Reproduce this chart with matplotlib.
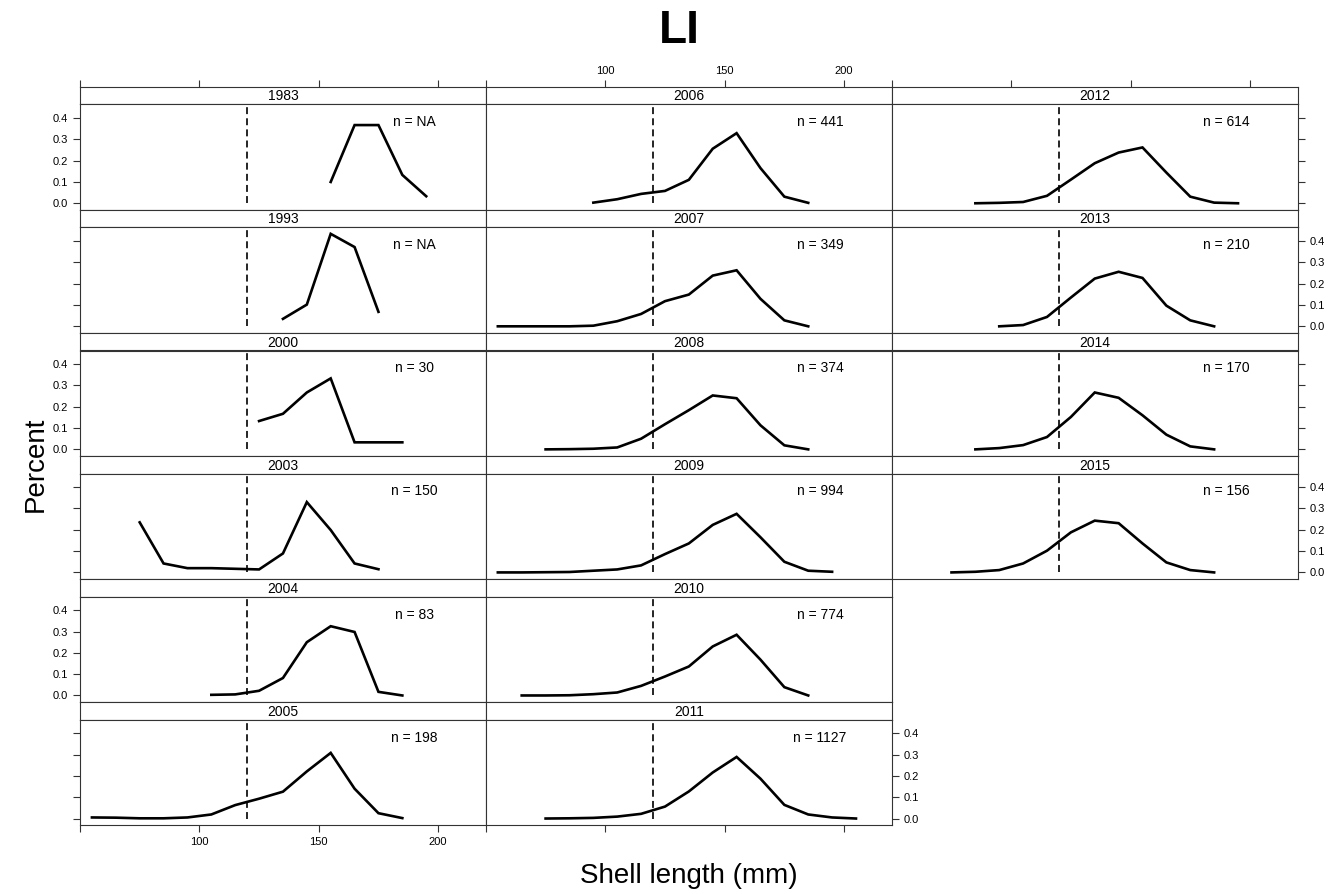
import numpy as np
import matplotlib
matplotlib.use("Agg")
import matplotlib.pyplot as plt

plt.rcParams['font.family'] = ['Liberation Sans', 'DejaVu Sans']
plt.rcParams['lines.scale_dashes'] = False

# bin midpoints (mm)
mids = [55, 65, 75, 85, 95, 105, 115, 125, 135, 145, 155, 165, 175, 185, 195, 205]
na = np.nan

y1983 = [na, na, na, na, na, na, na, na, na, na, 0.100, 0.367, 0.367, 0.133, 0.033, na]
y1993 = [na, na, na, na, na, na, na, na, 0.035, 0.102, 0.434, 0.372, 0.068, na, na, na]
y2000 = [na, na, na, na, na, na, na, 0.133, 0.167, 0.267, 0.333, 0.033, 0.033, 0.033, na, na]
y2003 = [na, na, 0.235, 0.042, 0.020, 0.020, 0.017, 0.014, 0.089, 0.330, 0.199, 0.042, 0.015, na, na, na]
y2004 = [na, na, na, na, na, 0.003, 0.005, 0.022, 0.082, 0.250, 0.325, 0.298, 0.017, 0.0, na, na]
y2005 = [0.005, 0.004, 0.001, 0.001, 0.005, 0.019, 0.063, 0.093, 0.126, 0.221, 0.308, 0.140, 0.025, 0.002, na, na]
y2006 = [na, na, na, na, 0.003, 0.019, 0.044, 0.058, 0.110, 0.256, 0.329, 0.165, 0.031, 0.002, na, na]
y2007 = [0.0, 0.0, 0.0, 0.0, 0.003, 0.024, 0.058, 0.118, 0.149, 0.238, 0.263, 0.129, 0.028, 0.0, na, na]
y2008 = [na, na, 0.0, 0.001, 0.003, 0.009, 0.050, 0.118, 0.184, 0.253, 0.240, 0.113, 0.019, 0.0, na, na]
y2009 = [0.0, 0.0, 0.001, 0.002, 0.008, 0.014, 0.033, 0.086, 0.136, 0.223, 0.275, 0.165, 0.050, 0.008, 0.003, na]
y2010 = [na, 0.0, 0.0, 0.001, 0.006, 0.014, 0.045, 0.089, 0.136, 0.230, 0.285, 0.168, 0.039, 0.0, na, na]
y2011 = [na, na, 0.0, 0.001, 0.003, 0.009, 0.022, 0.056, 0.127, 0.216, 0.289, 0.187, 0.064, 0.019, 0.005, 0.0]
y2012 = [na, na, na, 0.0, 0.002, 0.006, 0.035, 0.111, 0.188, 0.238, 0.262, 0.144, 0.031, 0.003, 0.0, na]
y2013 = [na, na, na, na, 0.0, 0.006, 0.044, 0.135, 0.224, 0.256, 0.227, 0.097, 0.028, 0.0, na, na]
y2014 = [na, na, na, 0.0, 0.006, 0.020, 0.058, 0.152, 0.267, 0.242, 0.160, 0.069, 0.014, 0.0, na, na]
y2015 = [na, na, 0.0, 0.003, 0.011, 0.042, 0.102, 0.188, 0.243, 0.231, 0.136, 0.047, 0.011, 0.0, na, na]

years = [1983, 1993, 2000, 2003, 2004, 2005,
         2006, 2007, 2008, 2009, 2010, 2011,
         2012, 2013, 2014, 2015]
series = [y1983, y1993, y2000, y2003, y2004, y2005,
          y2006, y2007, y2008, y2009, y2010, y2011,
          y2012, y2013, y2014, y2015]
n_labels = ["NA", "NA", "30", "150", "83", "198",
            "441", "349", "374", "994", "774", "1127",
            "614", "210", "170", "156"]
min_size = 120

W, H = 1338, 894
fig = plt.figure(figsize=(W / 100, H / 100), dpi=100)

def box(x, y, w, h):
    return [x / W, 1 - (y + h) / H, w / W, h / H]

col_w = 405.9
row_h = 123.05
strip_h = 17.7
x0, y0 = 80, 86.7
edge = '#333333'
xlim = (50, 220)
ylim = (-0.0304, 0.464)
xt = [50, 100, 150, 200]
xtl = ["", "100", "150", "200"]
yt = [0, 0.1, 0.2, 0.3, 0.4]
ytl = ["0.0", "0.1", "0.2", "0.3", "0.4"]

for i, (yr, vals, nl) in enumerate(zip(years, series, n_labels)):
    c, r = i // 6, i % 6
    left = x0 + c * col_w
    top = y0 + r * row_h

    # strip
    sax = fig.add_axes(box(left, top, col_w, strip_h))
    sax.set_xlim(*xlim)
    sax.set_ylim(0, 1)
    sax.set_yticks([])
    sax.text(0.5, 0.45, str(yr), transform=sax.transAxes, ha='center', va='center', fontsize=10)
    for s in sax.spines.values():
        s.set_color(edge)
        s.set_linewidth(0.8)
    sax.set_xticks(xt)
    sax.set_xticklabels(xtl)
    sax.tick_params(axis='x', bottom=False, labelbottom=False,
                    top=(r == 0), labeltop=(r == 0 and c == 1),
                    direction='out', length=4.8, width=0.8, color=edge,
                    labelsize=8, pad=3)

    # panel
    ax = fig.add_axes(box(left, top + strip_h, col_w, row_h - strip_h))
    ax.plot(mids, vals, color='black', lw=1.9, solid_joinstyle='miter')
    ax.plot([min_size, min_size], [0, 1], color='black', lw=1.2, ls=(0, (5, 3)))
    ax.text(190, 0.83, "n = " + nl, transform=ax.get_xaxis_transform(),
            ha='center', va='center', fontsize=10)
    ax.set_xlim(*xlim)
    ax.set_ylim(*ylim)
    ax.set_xticks(xt)
    ax.set_xticklabels(xtl)
    ax.set_yticks(yt)
    ax.set_yticklabels(ytl)
    for s in ax.spines.values():
        s.set_color(edge)
        s.set_linewidth(0.8)

    last_in_col = (r == 5)
    bottom_t = last_in_col and c < 2
    ax.tick_params(axis='x', top=False, labeltop=False,
                   bottom=bottom_t, labelbottom=(bottom_t and c == 0),
                   direction='out', length=4.8, width=0.8, color=edge,
                   labelsize=8, pad=4)
    left_t = (c == 0)
    right_t = (c == 2) or (c == 1 and r == 5)
    right_l = (c == 2 and r % 2 == 1) or (c == 1 and r == 5)
    ax.tick_params(axis='y', left=left_t, labelleft=(left_t and r % 2 == 0),
                   right=right_t, labelright=right_l,
                   direction='out', length=4.8, width=0.8, color=edge,
                   labelsize=8, pad=4)

fig.text(679 / W, 1 - 43 / H, "LI", fontsize=33, fontweight='bold', ha='center', va='baseline')
fig.text(36 / W, 1 - 464 / H, "Percent", fontsize=20, rotation=90, ha='center', va='center')
fig.text(689 / W, 1 - 876 / H, "Shell length (mm)", fontsize=20, ha='center', va='center')

fig.savefig("out.png", dpi=100, facecolor='white')
